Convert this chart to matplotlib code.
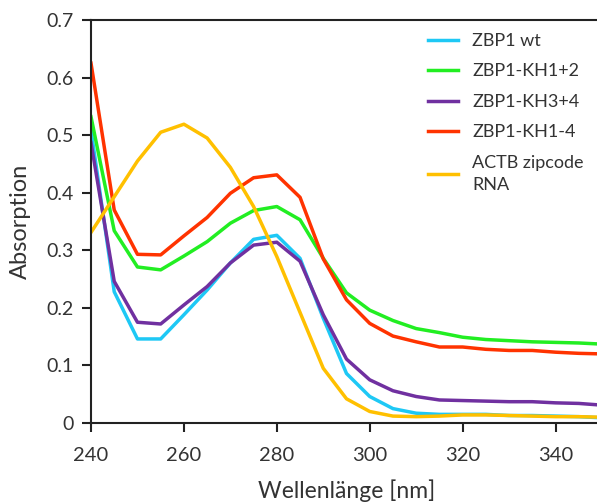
import matplotlib.pyplot as plt
from matplotlib.ticker import FuncFormatter

plt.rcParams['font.family'] = ['Lato', 'DejaVu Sans']

wavelength = list(range(240, 355, 5))

zbp1_wt = [0.509, 0.228, 0.146, 0.146, 0.188, 0.231, 0.278, 0.319, 0.326, 0.286,
           0.182, 0.086, 0.046, 0.025, 0.017, 0.015, 0.015, 0.015, 0.013, 0.013,
           0.012, 0.011, 0.009]
zbp1_kh12 = [0.532, 0.334, 0.271, 0.266, 0.290, 0.315, 0.347, 0.369, 0.376, 0.353,
             0.286, 0.226, 0.196, 0.178, 0.164, 0.157, 0.149, 0.145, 0.143, 0.141,
             0.140, 0.139, 0.137]
zbp1_kh34 = [0.487, 0.246, 0.175, 0.172, 0.205, 0.237, 0.278, 0.309, 0.314, 0.281,
             0.188, 0.111, 0.075, 0.056, 0.046, 0.040, 0.039, 0.038, 0.037, 0.037,
             0.035, 0.034, 0.031]
zbp1_kh14 = [0.625, 0.370, 0.293, 0.292, 0.325, 0.357, 0.399, 0.426, 0.431, 0.392,
             0.285, 0.214, 0.173, 0.151, 0.141, 0.132, 0.132, 0.128, 0.126, 0.126,
             0.123, 0.121, 0.120]
actb_rna = [0.331, 0.393, 0.455, 0.505, 0.519, 0.495, 0.444, 0.376, 0.289, 0.192,
            0.095, 0.042, 0.020, 0.012, 0.011, 0.012, 0.014, 0.014, 0.013, 0.012,
            0.011, 0.011, 0.010]

series = [
    ("ZBP1 wt", zbp1_wt, '#1ec8f5'),
    ("ZBP1-KH1+2", zbp1_kh12, '#22ee22'),
    ("ZBP1-KH3+4", zbp1_kh34, '#7030a0'),
    ("ZBP1-KH1-4", zbp1_kh14, '#ff3300'),
    ("ACTB zipcode\nRNA", actb_rna, '#ffc000'),
]

fig = plt.figure(figsize=(5.97, 5.03), dpi=100)
ax = fig.add_axes([91 / 597, 80 / 503, 511 / 597, 403 / 503])

for name, vals, col in series:
    ax.plot(wavelength, vals, color=col, lw=2.5, label=name)

ax.set_xlim(240, 350)
ax.set_ylim(0, 0.7)
ax.set_xticks([240, 260, 280, 300, 320, 340])
ax.set_yticks([0, 0.1, 0.2, 0.3, 0.4, 0.5, 0.6, 0.7])
ax.yaxis.set_major_formatter(FuncFormatter(lambda v, p: "0" if v == 0 else f"{v:.1f}"))
ax.tick_params(direction='out', length=6.5, width=1.5, colors='#222222',
               labelcolor='#333333')
ax.tick_params(axis='x', labelsize=14.5, pad=11)
ax.tick_params(axis='y', labelsize=14, pad=6)
for s in ['left', 'bottom', 'top']:
    ax.spines[s].set_linewidth(1.5)
    ax.spines[s].set_color('#222222')
ax.spines['right'].set_visible(False)

ax.set_xlabel("Wellenlänge [nm]", fontsize=16.5, color='#333333', labelpad=11)
ax.set_ylabel("Absorption", fontsize=17, color='#333333', labelpad=11)

leg = ax.legend(loc='upper left', bbox_to_anchor=(0.628, 1.008), frameon=False, fontsize=13,
                handlelength=1.67, handletextpad=0.78, labelspacing=0.8,
                labelcolor='#333333')
leg.get_texts()[-1].set_linespacing(1.5)

fig.savefig("out.png")
